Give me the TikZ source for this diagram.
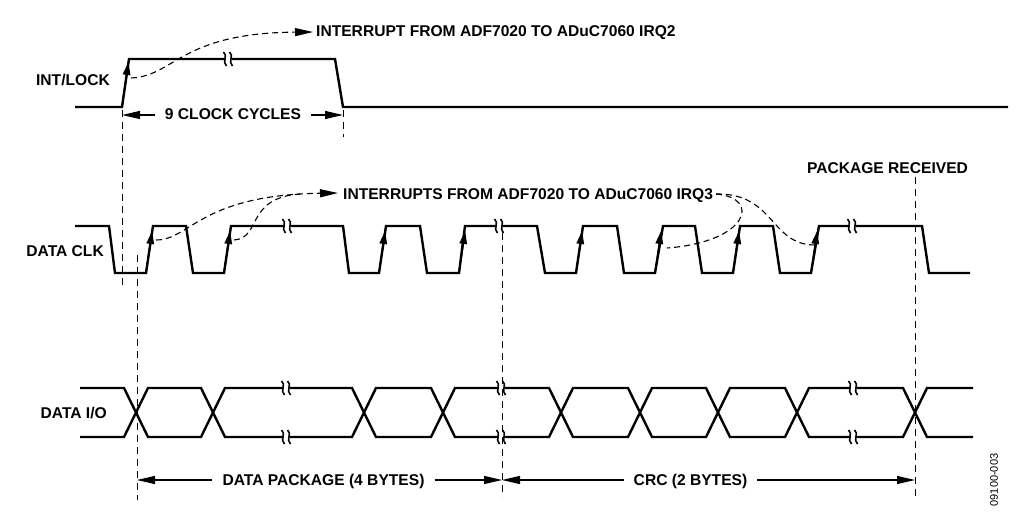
\documentclass[tikz,border=0pt]{standalone}
\usepackage{fontspec}
\setmainfont{Liberation Sans}
\usetikzlibrary{arrows.meta}
\newcommand\wavebreak[2]{%
  \fill[white] (#1-3.5,#2-3.5) rectangle (#1+2.5,#2+3.5);
  \draw[brkline] (#1-5.5,#2-7) .. controls (#1-0.5,#2-3.5) and (#1-7.5,#2+2.5) .. (#1-2.5,#2+7);
  \draw[brkline] (#1+0.5,#2-7) .. controls (#1+5.5,#2-3.5) and (#1-1.5,#2+2.5) .. (#1+3.5,#2+7);}
\begin{document}
\begin{tikzpicture}[x=1pt,y=-1pt,
  wave/.style={line width=2.4pt, line join=miter},
  guide/.style={line width=1pt, dash pattern=on 7pt off 5pt},
  irq/.style={line width=1.1pt, dash pattern=on 6pt off 4pt},
  irqarrow/.style={irq, -{Triangle[length=18pt,width=8pt]}},
  dim/.style={line width=1.1pt, -{Triangle[length=18pt,width=8pt]}},
  edgetip/.style={line width=1.5pt, -{Triangle[length=13pt,width=7.5pt]}},
  lbl/.style={font=\fontsize{15.6}{16}\selectfont\bfseries, inner sep=0pt},
  dimtxt/.style={lbl, inner xsep=10pt, inner ysep=0pt},
  brkline/.style={line width=1.6pt},
]
\useasboundingbox (0,0) rectangle (1024,529);

% ---------- labels ----------
\node[lbl, anchor=base east] (lblint) at (110,86) {INT/LOCK};
\node[lbl, anchor=base east] (lblclk) at (104,256) {DATA CLK};
\node[lbl, anchor=base east] (lblio)  at (107,418) {DATA I/O};

% ---------- INT/LOCK ----------
\draw[wave] (75,107) -- (122,107) -- (129,59) -- (335,59) -- (343,107) -- (1008,107);
\draw[edgetip] (122,107) -- (128.4,62);
\wavebreak{229}{59}

% ---------- DATA CLK ----------
\draw[wave] (75,226) -- (109,226) -- (115,273) -- (146,273) -- (153,226) -- (186,226) -- (193,273)
  -- (224,273) -- (231,226) -- (343,226) -- (349,273) -- (379,273) -- (386,226) -- (420,226)
  -- (427,273) -- (459,273) -- (465,226) -- (537,226) -- (545,273) -- (576,273) -- (583,226)
  -- (617,226) -- (624,273) -- (655,273) -- (663,226) -- (695,226) -- (702,273) -- (733,273)
  -- (740,226) -- (773,226) -- (780,273) -- (811,273) -- (819,226) -- (922,226) -- (929,273) -- (970,273);
\foreach \x in {146,224,379,459,576,655,733,811}
  \draw[edgetip] (\x,273) -- (\x+6.1,231);
\wavebreak{288}{226}
\wavebreak{500}{226}
\wavebreak{853}{226}

% ---------- DATA I/O ----------
\draw[wave] (80,388) -- (124,388) -- (148,437) -- (201,437) -- (225,388) -- (352,388) -- (376,437)
  -- (431,437) -- (455,388) -- (549,388) -- (573,437) -- (628,437) -- (652,388) -- (706,388)
  -- (730,437) -- (785,437) -- (809,388) -- (903,388) -- (927,437) -- (973,437);
\draw[wave] (80,437) -- (124,437) -- (148,388) -- (201,388) -- (225,437) -- (352,437) -- (376,388)
  -- (431,388) -- (455,437) -- (549,437) -- (573,388) -- (628,388) -- (652,437) -- (706,437)
  -- (730,388) -- (785,388) -- (809,437) -- (903,437) -- (927,388) -- (973,388);
\foreach \x in {287,502,854} {\wavebreak{\x}{388}\wavebreak{\x}{437}}

% ---------- guide lines ----------
\draw[guide] (122,110) -- (122,288);
\draw[guide] (343,110) -- (343,137);
\draw[guide] (137,255) -- (137,500);
\draw[guide] (502,233) -- (502,497);
\draw[guide] (915,177) -- (915,498);

% ---------- interrupt texts and arrows ----------
\node[lbl, anchor=base west] (irq2) at (316,37) {INTERRUPT FROM ADF7020 TO ADuC7060 IRQ2};
\coordinate (s2) at (131,78);
\coordinate (t2) at (313,32);
\draw[irqarrow] (s2) .. controls (175,76) and (180,33) .. (t2);

\node[lbl, anchor=base west] (irq3) at (343,200) {INTERRUPTS FROM ADF7020 TO ADuC7060 IRQ3};
\coordinate (s3a) at (156,240);
\coordinate (s3b) at (234,240);
\coordinate (t3) at (338,193);
\coordinate (m3) at (300,194);
\draw[irqarrow] (s3a) .. controls (190,240) and (200,195) .. (t3);
\draw[irq] (s3b) .. controls (262,238) and (245,198) .. (m3);
\coordinate (r3) at (716,194);
\coordinate (e3a) at (667,248);
\coordinate (e3b) at (815,245);
\draw[irq] (r3) .. controls (762,198) and (748,242) .. (e3a);
\draw[irq] (r3) .. controls (775,193) and (770,245) .. (e3b);

\node[lbl, anchor=base] (pkg) at (887.5,174) {PACKAGE RECEIVED};

% ---------- dimensions ----------
\coordinate (d9a) at (122,115);
\coordinate (d9b) at (343,115);
\node[dimtxt, anchor=base] (dim9) at (233,120) {9 CLOCK CYCLES};
\draw[dim] (dim9.west |- d9a) -- (d9a);
\draw[dim] (dim9.east |- d9b) -- (d9b);

\coordinate (dda) at (137,480);
\coordinate (ddb) at (502,480);
\coordinate (dcb) at (915,480);
\node[dimtxt, anchor=base] (dimdata) at (323.5,485) {DATA PACKAGE (4 BYTES)};
\draw[dim] (dimdata.west |- dda) -- (dda);
\draw[dim] (dimdata.east |- ddb) -- (ddb);
\node[dimtxt, anchor=base] (dimcrc) at (690.5,485) {CRC (2 BYTES)};
\draw[dim] (dimcrc.west |- ddb) -- (ddb);
\draw[dim] (dimcrc.east |- dcb) -- (dcb);

\node[rotate=90, inner sep=0pt, font=\fontsize{11}{11}\selectfont] (fig) at (994,480) {09100-003};
\end{tikzpicture}
\end{document}
